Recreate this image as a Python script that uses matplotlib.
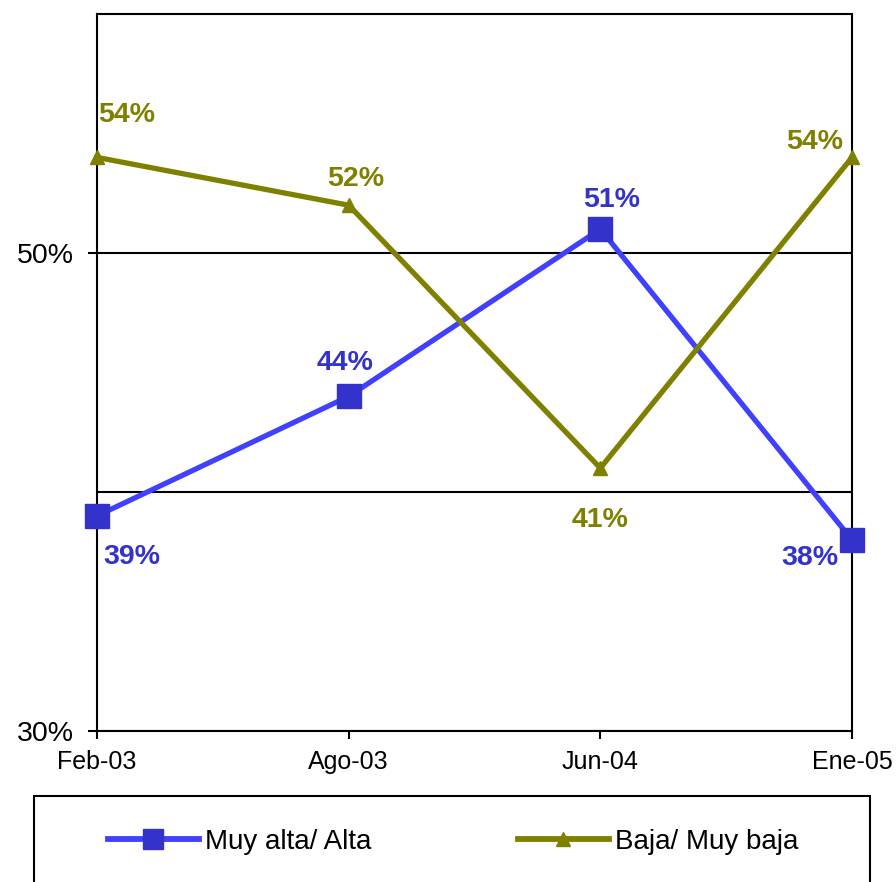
import matplotlib
matplotlib.use("Agg")
import matplotlib.pyplot as plt
from matplotlib.patches import Rectangle
from matplotlib.lines import Line2D
from matplotlib.ticker import FixedLocator, FuncFormatter

categories = ["Feb-03", "Ago-03", "Jun-04", "Ene-05"]
alta = [39, 44, 51, 38]
baja = [54, 52, 41, 54]
series_names = ["Muy alta/ Alta", "Baja/ Muy baja"]
ytick_labels = [30, 50]

plt.rcParams['font.family'] = ['Liberation Sans', 'DejaVu Sans']

W, H = 896, 882
fig = plt.figure(figsize=(W / 100, H / 100), dpi=100)
ax = fig.add_axes([97 / W, 1 - 731 / H, (852 - 97) / W, (731 - 14) / H])

x = list(range(len(categories)))
blue_line = "#4040FF"
blue_mark = "#3333CC"
olive = "#808000"

ax.plot(x, [v / 100 for v in alta], color=blue_line, lw=3.8, marker="s",
        markersize=17, markerfacecolor=blue_mark, markeredgecolor=blue_mark,
        clip_on=False, zorder=4)
ax.plot(x, [v / 100 for v in baja], color=olive, lw=3.8, marker="^",
        markersize=10, markerfacecolor=olive, markeredgecolor=olive,
        clip_on=False, zorder=4)

alta_off = [(35, -41), (-4, 33), (11, 29), (-42, -18)]
baja_off = [(30, 42), (7, 26), (0, -52), (-37, 15)]
for i, v in enumerate(alta):
    ax.annotate(f"{v}%", (x[i], v / 100), xytext=alta_off[i],
                textcoords="offset pixels", ha="center", va="center",
                fontsize=20.5, fontweight="bold", color=blue_mark, zorder=5)
for i, v in enumerate(baja):
    ax.annotate(f"{v}%", (x[i], v / 100), xytext=baja_off[i],
                textcoords="offset pixels", ha="center", va="center",
                fontsize=20.5, fontweight="bold", color=olive, zorder=5)

ax.set_xlim(0, len(categories) - 1)
ax.set_ylim(0.30, 0.60)
ax.set_xticks(x)
ax.set_xticklabels(categories, fontsize=18)
ax.yaxis.set_major_locator(FixedLocator([v / 100 for v in ytick_labels]))
ax.yaxis.set_major_formatter(FuncFormatter(lambda v, p: f"{round(v * 100)}%"))
ax.yaxis.set_minor_locator(FixedLocator([0.40]))
ax.tick_params(axis="y", which="major", labelsize=20.5, length=6.5, width=1.5,
               direction="out", pad=10)
ax.tick_params(axis="y", which="minor", length=0)
ax.tick_params(axis="x", length=6, width=1.5, direction="out", pad=8)
ax.grid(axis="y", which="both", color="black", lw=1.5, zorder=1)
ax.set_axisbelow(True)
for s in ax.spines.values():
    s.set_linewidth(1.5)
    s.set_color("black")

# legend box (cut off at bottom like the reference)
fig.patches.append(Rectangle((34 / W, -0.02), (870 - 34) / W, 0.02 + 1 - 796 / H,
                             transform=fig.transFigure, fill=False,
                             lw=1.5, ec="black"))
h1 = Line2D([], [], color=blue_line, lw=4.2, marker="s", markersize=14.5,
            markerfacecolor=blue_mark, markeredgecolor=blue_mark)
h2 = Line2D([], [], color=olive, lw=4.2, marker="^", markersize=10,
            markerfacecolor=olive, markeredgecolor=olive)
for h, name, xl in [(h1, series_names[0], 108), (h2, series_names[1], 518)]:
    leg = fig.legend([h], [name], loc="center left",
                     bbox_to_anchor=(xl / W, 1 - 842 / H), frameon=False,
                     fontsize=20, handlelength=3.27, handletextpad=0.22,
                     borderpad=0, borderaxespad=0)

fig.savefig("out.png", dpi=100)
